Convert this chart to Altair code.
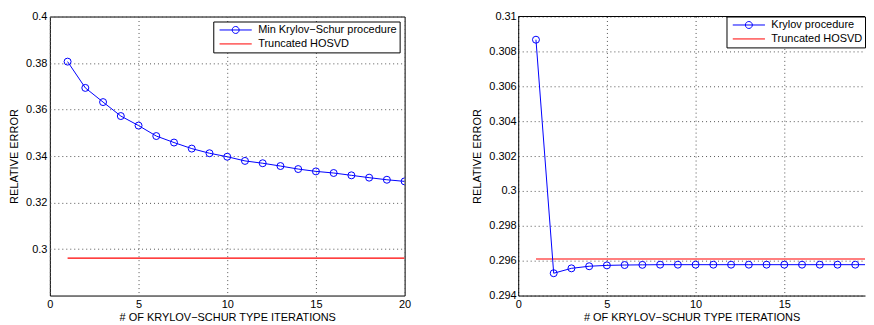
import altair as alt
import pandas as pd

iters = list(range(1, 21))
left_name = "Min Krylov\u2212Schur procedure"
right_name = "Krylov procedure"
hosvd_name = "Truncated HOSVD"

left_err = [0.3806, 0.3693, 0.3632, 0.3572, 0.3531, 0.3486, 0.3458, 0.3432,
            0.3412, 0.3397, 0.3379, 0.3369, 0.3357, 0.3344, 0.3334, 0.3327,
            0.3317, 0.3307, 0.3298, 0.3291]
right_err = [0.30867, 0.29528, 0.29556, 0.29568, 0.29573, 0.29575, 0.29576,
             0.29577, 0.29577, 0.29577, 0.29577, 0.29577, 0.29577, 0.29577,
             0.29577, 0.29577, 0.29577, 0.29577, 0.29577, 0.29577]
hosvd_x = [1, 20]
hosvd_left = [0.2961, 0.2961]
hosvd_right = [0.29610, 0.29610]

left_yticks = [0.3, 0.32, 0.34, 0.36, 0.38, 0.4]
right_yticks = [0.294, 0.296, 0.298, 0.3, 0.302, 0.304, 0.306, 0.308, 0.31]
left_xticks = [0, 5, 10, 15, 20]
right_xticks = [0, 5, 10, 15]
left_xdom = [0, 20]
right_xdom = [0, 19.55]   # the reference is cut off at the window edge

BLUE_PATH = ("M-0.8,0L0.9,0M0.234,0A0.184,0.184,0,1,1,-0.134,0"
             "A0.184,0.184,0,1,1,0.234,0")
RED_PATH = "M-0.8,0L0.9,0"
XTITLE = "# OF KRYLOV\u2212SCHUR TYPE ITERATIONS"


def panel(name, errs, hx, hy, xdom, xticks, ydom, yticks, label_pad, width,
          leg_offset, cut):
    df_main = pd.DataFrame({"iter": iters, "err": errs, "series": name})
    df_h = pd.DataFrame({"iter": hx, "err": hy, "series": hosvd_name})
    domain = [name, hosvd_name]
    leg = alt.Legend(title=None, orient="top-right", offset=leg_offset, padding=2,
                     rowPadding=1, clipHeight=13, symbolSize=1444,
                     symbolStrokeWidth=1, labelOffset=4, labelFontSize=11,
                     labelColor="black", strokeColor="black",
                     fillColor="white", labelLimit=300)
    color = alt.Color("series:N",
                      scale=alt.Scale(domain=domain, range=["#0000ff", "#ff0000"]),
                      legend=leg)
    shape = alt.Shape("series:N",
                      scale=alt.Scale(domain=domain, range=[BLUE_PATH, RED_PATH]),
                      legend=leg)
    xs = alt.Scale(domain=xdom, nice=False)
    ys = alt.Scale(domain=ydom, nice=False, zero=False)
    xaxis = alt.Axis(values=xticks, title=XTITLE, labelPadding=3,
                     titlePadding=2, domain=cut, domainColor="black",
                     domainWidth=1)
    yaxis = alt.Axis(values=yticks, format=".3~f", title="RELATIVE ERROR",
                     labelPadding=label_pad, titlePadding=6, domain=cut,
                     domainColor="black", domainWidth=1)
    x = alt.X("iter:Q", scale=xs, axis=xaxis)
    y = alt.Y("err:Q", scale=ys, axis=yaxis)
    hl = alt.Chart(df_h).mark_line(strokeWidth=1.1, clip=True).encode(x=x, y=y, color=color)
    ln = alt.Chart(df_main).mark_line(strokeWidth=1, clip=True).encode(x=x, y=y, color=color)
    pts = alt.Chart(df_main).mark_point(filled=False, size=49, strokeWidth=1,
                                        opacity=1, clip=True).encode(x=x, y=y, color=color)
    ghost = (alt.Chart(df_main).transform_filter("false")
             .mark_point(filled=False, opacity=1)
             .encode(x=x, y=y, color=color, shape=shape))
    layers = [hl, ln, pts, ghost]
    if cut:
        # top frame edge of the cut-off panel (its right edge lies outside the window)
        df_top = pd.DataFrame({"iter": [xdom[0]], "iter_end": [xdom[1]], "err": [ydom[1]]})
        top = alt.Chart(df_top).mark_rule(color="black", strokeWidth=1).encode(
            x=x, x2="iter_end:Q", y=y)
        layers.append(top)
    lay = alt.layer(*layers).properties(width=width, height=280)
    if cut:
        lay = lay.properties(view=alt.ViewConfig(stroke=None))
    return lay


left = panel(left_name, left_err, hosvd_x, hosvd_left, left_xdom, left_xticks,
             [0.28, 0.4], left_yticks, 3, 356, 5, False)
right = panel(right_name, right_err, hosvd_x, hosvd_right, right_xdom, right_xticks,
              [0.294, 0.31], right_yticks, 2, 348, 0, True)

chart = (
    alt.hconcat(left, right, spacing=60)
    .resolve_scale(color="independent", shape="independent", x="independent", y="independent")
    .resolve_legend(color="independent", shape="independent")
    .properties(padding={"left": 0, "top": 1, "right": 0, "bottom": 0})
    .configure(font="Liberation Sans")
    .configure_view(stroke="black", strokeWidth=1)
    .configure_axis(grid=True, ticks=False, domain=False, labelFontSize=11,
                    titleFontSize=11, titleFontWeight="normal", labelColor="black",
                    titleColor="black", gridColor="#555555", gridDash=[1, 3],
                    gridOpacity=1, labelFlush=False, labelOverlap=False)
)

chart.save("out.html", embed_options={"renderer": "svg", "actions": False})
